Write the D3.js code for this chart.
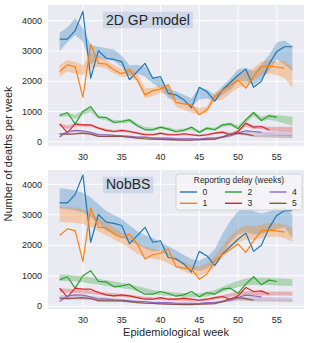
<!DOCTYPE html>
<html><head><meta charset="utf-8">
<script src="https://cdn.jsdelivr.net/npm/d3@7"></script>
<style>body{margin:0;background:#fff;}svg{display:block;font-family:"Liberation Sans",Arial,sans-serif;}</style>
</head><body>
<svg id="c" width="310" height="343"></svg>
<script>
// ---- data ----
const weeks = d3.range(27, 58); // 27..57
const xTicks = [30, 35, 40, 45, 50, 55];
const yTicks = [0, 1000, 2000, 3000, 4000];
const delays = ["0", "1", "2", "3", "4", "5"];
const colors = ["#1f77b4", "#ff7f0e", "#2ca02c", "#d62728", "#9467bd", "#8c564b"];
const panelTitles = ["2D GP model", "NobBS"];

// observed deaths by reporting delay (start week 27)
const obs0 = [3390,3390,3670,4310,2100,3010,2760,2720,2650,2050,2320,2590,2100,2150,1600,1550,1390,1120,1800,1650,1340,1720,1960,2200,2400,1800,2000,2570,2980,3140,3140];
const obs1 = [2320,2540,2480,1470,3220,2590,2570,2370,2250,2370,2040,1550,1690,1740,1880,1300,1250,1220,890,1060,1490,1700,1860,2040,1770,2150,2480,2500,2470,2430];
const obs2 = [867,967,593,1000,1165,813,802,637,670,725,527,396,396,484,418,330,374,484,308,450,396,560,593,429,725,967,703,857,813];
const obs3 = [593,300,593,560,560,450,374,340,374,340,286,231,231,286,231,231,264,231,198,231,286,320,231,340,615,484,505,396];
const obs4 = [154,340,374,363,308,231,231,209,198,176,154,154,121,121,121,99,99,99,88,121,121,154,198,286,363,340,308];
const obs5 = [264,253,264,286,253,176,176,176,176,154,121,99,90,80,70,60,55,55,66,77,88,160,253,286,253,198];

// 2D GP model: band centre and half-width (weeks 27..57)
const gpMid0 = [3290,3540,3800,3530,2870,2950,2900,2860,2650,2350,2400,2320,2040,1930,1600,1520,1410,1300,1600,1580,1440,1700,1900,2200,2230,2100,2300,2600,3000,2950,2750];
const gpHw0  = [310,240,280,220,330,190,190,190,190,180,140,160,110,160,160,140,140,140,200,150,110,140,190,200,220,220,250,270,280,400,420];
const gpMid1 = [2350,2510,2450,2370,2680,2640,2560,2400,2280,2300,2130,1600,1640,1740,1690,1270,1160,1090,1000,1060,1500,1550,1800,1990,2100,2240,2430,2480,2430,2380,2130];
const gpHw1  = [190,190,190,170,250,160,140,140,140,145,140,165,135,140,140,110,110,135,110,105,140,165,195,215,225,195,220,220,220,280,360];
const gpMid2 = [880,900,820,960,1060,820,770,660,660,700,550,440,410,460,430,360,390,440,330,440,410,540,580,480,700,920,750,820,780,730,680];
const gpHw2  = [60,60,70,70,80,60,60,60,60,60,55,50,50,50,50,50,50,50,50,50,50,55,60,60,70,80,80,90,100,130,150];
const gpMid3 = [560,480,560,540,540,450,390,350,370,340,290,250,240,270,240,230,250,230,210,230,280,310,260,350,560,480,480,420,420,410,400];
const gpHw3  = [50,60,50,45,45,40,40,40,40,40,35,35,35,35,35,35,35,35,35,35,35,40,40,45,55,55,60,70,80,90,100];
const gpMid4 = [200,320,350,340,300,240,225,210,195,175,155,150,125,120,118,100,100,98,90,115,120,150,195,280,330,310,290,270,260,250,240];
const gpHw4  = [35,35,35,35,35,30,30,30,30,30,30,30,30,30,30,30,30,30,30,30,30,30,35,40,45,45,50,55,60,60,60];
const gpMid5 = [260,255,262,280,250,180,175,175,172,152,122,100,90,80,70,62,57,57,65,76,88,160,240,270,245,200,190,185,180,175,170];
const gpHw5  = [30,30,30,30,30,25,25,25,25,25,25,25,25,25,25,25,25,25,25,25,25,30,35,35,35,40,40,45,45,50,50];

// NobBS: band centre and half-width (weeks 27..57)
const nbMid0 = [3540,3520,3470,3400,3250,3020,2800,2680,2560,2400,2240,2120,2020,1960,1820,1680,1520,1380,1330,1430,1650,2050,2450,2740,2850,2740,2700,2780,2870,2940,2620];
const nbHw0  = [330,330,330,325,325,325,325,310,300,260,220,220,220,140,150,160,160,160,170,190,220,330,350,380,410,380,340,330,340,350,380];
const nbMid1 = [3020,3010,2990,2940,2830,2680,2530,2380,2250,2080,1900,1780,1720,1680,1560,1440,1300,1190,1150,1250,1460,1790,2090,2310,2420,2400,2450,2500,2500,2450,2340];
const nbHw1  = [250,250,250,240,230,220,200,190,180,180,180,170,170,160,160,160,150,150,150,160,170,200,220,230,230,220,220,220,220,220,220];
const nbMid2 = [940,930,910,880,850,810,760,720,680,640,580,520,460,430,410,390,370,360,360,390,460,550,650,730,790,820,820,810,800,790,780];
const nbHw2  = [100,100,100,100,100,95,95,90,90,85,80,75,70,70,65,65,65,65,65,70,75,85,95,105,110,115,115,115,115,115,115];
const nbMid3 = [520,510,500,480,460,430,400,370,350,330,300,270,250,240,230,220,210,200,200,220,260,310,370,410,430,430,420,420,420,420,410];
const nbHw3  = [65,65,65,65,60,60,55,55,50,50,45,45,45,45,40,40,40,40,40,45,50,55,60,65,65,65,65,65,65,65,65];
const nbMid4 = [320,320,315,305,290,270,250,230,210,190,170,150,135,125,115,105,100,95,95,105,130,170,220,260,270,265,260,255,250,245,240];
const nbHw4  = [40,40,40,40,40,38,36,34,32,30,28,26,25,25,25,24,24,24,24,25,28,32,36,40,40,40,40,40,40,40,40];
const nbMid5 = [250,250,250,245,235,215,195,180,165,150,130,110,95,85,75,65,60,58,60,70,95,140,190,210,205,195,190,185,180,178,175];
const nbHw5  = [30,30,30,30,30,28,27,26,25,24,22,20,20,20,20,20,20,20,20,20,22,26,30,32,32,32,32,32,32,32,32];

const observed = [obs0, obs1, obs2, obs3, obs4, obs5];
const bands = [
  [[gpMid0,gpHw0],[gpMid1,gpHw1],[gpMid2,gpHw2],[gpMid3,gpHw3],[gpMid4,gpHw4],[gpMid5,gpHw5]],
  [[nbMid0,nbHw0],[nbMid1,nbHw1],[nbMid2,nbHw2],[nbMid3,nbHw3],[nbMid4,nbHw4],[nbMid5,nbHw5]]
];

// ---- drawing ----
const svg = d3.select("#c");
const textCol = "#262626";
const panels = [
  {top: 5, bottom: 146, yDom: [-140, 4520], tickY: 159.5},
  {top: 170, bottom: 309, yDom: [-90, 4470], tickY: 322.5}
];
const x = d3.scaleLinear().domain([25.5, 58.5]).range([48, 304]);

panels.forEach((p, pi) => {
  const y = d3.scaleLinear().domain(p.yDom).range([p.bottom, p.top]);
  const g = svg.append("g");
  g.append("rect").attr("x", 48).attr("y", p.top).attr("width", 256).attr("height", p.bottom - p.top).attr("fill", "#eaeaf2");
  const clipId = "clip" + pi;
  svg.append("clipPath").attr("id", clipId).append("rect")
    .attr("x", 48).attr("y", p.top).attr("width", 256).attr("height", p.bottom - p.top);
  // grid
  g.selectAll(".gx").data(xTicks).join("line")
    .attr("x1", d => x(d)).attr("x2", d => x(d)).attr("y1", p.top).attr("y2", p.bottom)
    .attr("stroke", "#fff").attr("stroke-width", 1);
  g.selectAll(".gy").data(yTicks).join("line")
    .attr("x1", 48).attr("x2", 304).attr("y1", d => y(d)).attr("y2", d => y(d))
    .attr("stroke", "#fff").attr("stroke-width", 1);
  // tick labels
  g.selectAll(".tx").data(xTicks).join("text")
    .attr("x", d => x(d)).attr("y", p.tickY).attr("text-anchor", "middle")
    .attr("font-size", 9).attr("fill", textCol).text(d => d);
  g.selectAll(".ty").data(yTicks).join("text")
    .attr("x", 42).attr("y", d => y(d) + 3.2).attr("text-anchor", "end")
    .attr("font-size", 9).attr("fill", textCol).text(d => d);

  const plot = g.append("g").attr("clip-path", `url(#${clipId})`);
  // bands
  bands[pi].forEach(([mid, hw], i) => {
    const area = d3.area().x((d, k) => x(weeks[k]))
      .y0((d, k) => y(mid[k] - hw[k])).y1((d, k) => y(mid[k] + hw[k]));
    plot.append("path").attr("d", area(mid)).attr("fill", colors[i]).attr("fill-opacity", 0.3).attr("stroke", "none");
  });
  // observed lines
  observed.forEach((vals, i) => {
    const line = d3.line().x((d, k) => x(weeks[k])).y(d => y(d));
    plot.append("path").attr("d", line(vals)).attr("fill", "none")
      .attr("stroke", colors[i]).attr("stroke-width", 1.2).attr("stroke-linejoin", "round");
  });
  // title box
  const tb = g.append("g");
  const tt = tb.append("text").attr("x", 106).attr("y", pi === 0 ? 24.5 : 189.2)
    .attr("font-size", 14).attr("fill", textCol).text(panelTitles[pi]);
  const bb = tt.node().getBBox();
  tb.insert("rect", "text").attr("x", bb.x - 3).attr("y", pi === 0 ? 11.7 : 176.7)
    .attr("width", bb.width + 6).attr("height", 16.6).attr("rx", 1)
    .attr("fill", "#b0c4de").attr("fill-opacity", 0.5);
});

// legend (bottom panel)
const lg = svg.append("g");
lg.append("rect").attr("x", 176).attr("y", 174).attr("width", 126).attr("height", 36).attr("rx", 2.5)
  .attr("fill", "#f6f6f9").attr("fill-opacity", 0.85).attr("stroke", "#cccccc").attr("stroke-width", 0.8);
lg.append("text").attr("x", 239).attr("y", 183.2).attr("text-anchor", "middle")
  .attr("font-size", 8.4).attr("fill", textCol).text("Reporting delay (weeks)");
const colX = [180, 225, 269.5];
const rowY = [192, 203.3];
delays.forEach((d, i) => {
  const cx = colX[Math.floor(i / 2)], cy = rowY[i % 2];
  lg.append("line").attr("x1", cx).attr("x2", cx + 17).attr("y1", cy).attr("y2", cy)
    .attr("stroke", colors[i]).attr("stroke-width", 1.4);
  lg.append("text").attr("x", cx + 25).attr("y", cy + 3.1).attr("text-anchor", "middle")
    .attr("font-size", 8.6).attr("fill", textCol).text(d);
});

// axis labels
svg.append("text").attr("transform", "translate(12,154) rotate(-90)").attr("text-anchor", "middle")
  .attr("font-size", 11).attr("fill", textCol).text("Number of deaths per week");
svg.append("text").attr("x", 176).attr("y", 335.5).attr("text-anchor", "middle")
  .attr("font-size", 11).attr("fill", textCol).text("Epidemiological week");
</script>
</body></html>
